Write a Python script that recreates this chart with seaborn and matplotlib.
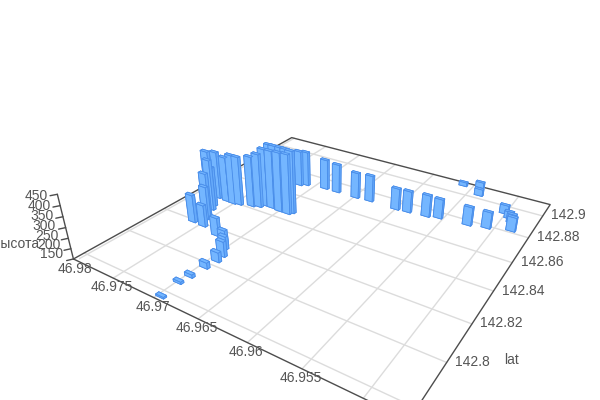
import matplotlib
matplotlib.use("Agg")
import matplotlib.pyplot as plt
import numpy as np
import seaborn as sns
from mpl_toolkits.mplot3d import proj3d

# valori
lon = [46.96960, 46.96983, 46.96964, 46.96948, 46.96928, 46.96943, 46.97012, 46.97087, 46.97233, 46.97461,
       46.97605, 46.97739, 46.97681, 46.97667, 46.97623, 46.97589, 46.97534, 46.97612, 46.97518, 46.97450,
       46.97316, 46.97242, 46.97207, 46.97116, 46.97006, 46.96903, 46.96877, 46.97285, 46.97222, 46.97115,
       46.97026, 46.97173, 46.97110, 46.96881, 46.96729, 46.96488, 46.96323, 46.96005, 46.95877, 46.95676,
       46.95556, 46.95255, 46.95075, 46.95606, 46.95434, 46.95379, 46.95018, 46.94944, 46.94899, 46.94851]
lat = [142.7772, 142.7861, 142.7908, 142.7977, 142.8030, 142.8067, 142.8108, 142.8138, 142.8163, 142.8188,
       142.8191, 142.8401, 142.8327, 142.8338, 142.8308, 142.8267, 142.8239, 142.8398, 142.8397, 142.8404,
       142.8422, 142.8434, 142.8457, 142.8456, 142.8451, 142.8451, 142.8467, 142.8537, 142.8535, 142.8526,
       142.8514, 142.8691, 142.8708, 142.8724, 142.8725, 142.8725, 142.8731, 142.8727, 142.8733, 142.8742,
       142.8757, 142.8768, 142.8787, 142.9085, 142.9110, 142.9034, 142.8939, 142.8909, 142.8882, 142.8818]
height = [157, 160, 165, 179, 197, 224, 213, 214, 240, 258, 288, 391, 432, 349, 404, 360, 314,
          380, 402, 398, 406, 422, 441, 443, 449, 452, 464, 422, 424, 430, 437, 335, 330, 307,
          299, 283, 285, 260, 259, 260, 248, 243, 232, 170, 179, 185, 194, 185, 193, 220]

lon_ticks = [46.98, 46.975, 46.97, 46.965, 46.96, 46.955, 46.95]
lon_labels = ["46.98", "46.975", "46.97", "46.965", "46.96", "46.955"]
lat_ticks = [142.9, 142.88, 142.86, 142.84, 142.82, 142.8, 142.78]
lat_labels = ["142.9", "142.88", "142.86", "142.84", "142.82", "142.8"]
z_ticks = [150, 200, 250, 300, 350, 400, 450]

lon_min, lon_max = 46.94663, 46.98041
lat_min, lat_max = 142.77531, 142.91144
z_min, z_max = 150, 450
text_col = "#555555"
axis_col = "#4d4d4d"
grid_col = "#dcdcdc"

sns.set_theme(style="white", font="Liberation Sans")

fig = plt.figure(figsize=(6, 4), dpi=100, facecolor="white")
# posizione scelta per far coincidere il riquadro con il riferimento
ax = fig.add_axes([78.85 / 600, -51.01 / 400, 488.84 / 600, 488.84 / 400],
                  projection="3d", computed_zorder=False)
ax.set_axis_off()

# griglia sul pavimento
for v in lon_ticks:
    ax.plot([v, v], [lat_min, lat_max], [z_min, z_min], color=grid_col, lw=1, zorder=1)
for v in lat_ticks:
    ax.plot([lon_min, lon_max], [v, v], [z_min, z_min], color=grid_col, lw=1, zorder=1)

# bordi del pavimento e asse verticale
ax.plot([lon_max, lon_min, lon_min, lon_max, lon_max], [lat_min, lat_min, lat_max, lat_max, lat_min],
        [z_min] * 5, color=axis_col, lw=1, zorder=2, clip_on=False)
ax.plot([lon_max, lon_max], [lat_min, lat_min], [z_min, z_max], color=axis_col, lw=1, zorder=2, clip_on=False)
for v in z_ticks:
    ax.plot([lon_max, lon_max + 0.0003], [lat_min, lat_min - 0.002], [v, v], color=axis_col, lw=1,
            zorder=2, clip_on=False)

# barre
dx = 0.0009
dy = 0.0014
n = len(lon)
face_cols = ["#66aafa", "#74b6ff", "#74b6ff", "#66aafa", "#66aafa", "#66aafa"] * n
ax.bar3d(np.array(lon) - dx / 2, np.array(lat) - dy / 2, np.full(n, z_min), dx, dy, np.array(height) - z_min,
         color=face_cols, edgecolor="#4a8eea", linewidth=0.6, shade=False, zorder=3)

ax.set_xlim(lon_max, lon_min, view_margin=0)
ax.set_ylim(lat_min, lat_max, view_margin=0)
ax.set_zlim(z_min, z_max, view_margin=0)
ax.view_init(28.69915, -57.26904)
ax.set_proj_type("persp", focal_length=0.22604)
ax.set_box_aspect((0.99945, 1, 0.19761))


def label(text, x, y, z, off, ha):
    # etichetta spostata di qualche pixel dal punto proiettato
    px, py, _ = proj3d.proj_transform(x, y, z, ax.get_proj())
    ax.annotate(text, (px, py), xytext=off, textcoords="offset pixels", ha=ha, va="center",
                color=text_col, fontsize=10, annotation_clip=False, zorder=5)


for v, t in zip(lon_ticks, lon_labels):
    label(t, v, lat_min, z_min, (-1, -9), "center")
for v, t in zip(lat_ticks, lat_labels):
    label(t, lon_min, v, z_min, (8.5, 0.5), "left")
for v in z_ticks:
    f = (v - z_min) / (z_max - z_min)
    label(str(v), lon_max, lat_min, v, (-10.6 + 1.3 * f, 4.7 - 6.1 * f), "right")

fig.text(504 / 600, 1 - 360 / 400, "lat", color=text_col, fontsize=10, ha="left", va="center")
fig.text(39.5 / 600, 1 - 244 / 400, "высота", color=text_col, fontsize=10, ha="right", va="center")

fig.savefig("out.png", dpi=100)
